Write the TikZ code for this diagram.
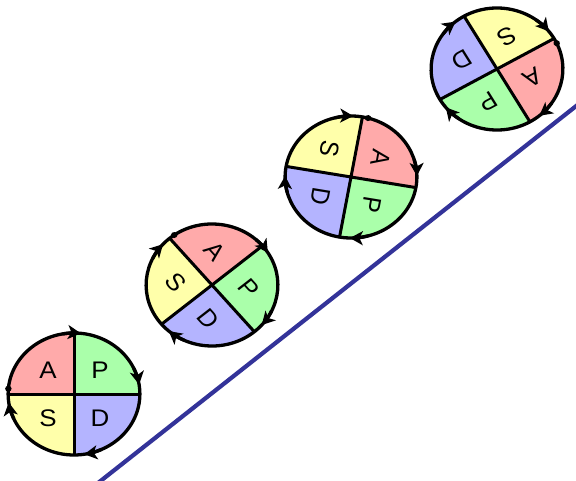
\documentclass[tikz,border=0pt]{standalone}
\usepackage{fontspec}
\setmainfont{Liberation Sans}
\usetikzlibrary{arrows.meta}
\definecolor{pdcaAct}{HTML}{FFAAAA}
\definecolor{pdcaPlan}{HTML}{AAFFAA}
\definecolor{pdcaDo}{HTML}{B4B4FF}
\definecolor{pdcaStudy}{HTML}{FFFFAA}
\definecolor{pdcaSlope}{HTML}{333399}
\tikzset{
  rim/.style={draw=black, line width=3.3pt},
  spoke/.style={draw=black, line width=3pt},
  turn/.style={draw=black, line width=3.3pt,
               -{Stealth[length=13pt, width=14pt, inset=3.5pt]}},
  letter/.style={font=\fontsize{24}{24}\selectfont, transform shape, inner sep=0pt},
  slope/.style={draw=pdcaSlope, line width=4.2pt},
}
\begin{document}
\begin{tikzpicture}[x=1pt, y=1pt]
\useasboundingbox (0,0) rectangle (576,480);

\def\R{61}

\draw[slope] (98,-3) -- (580,377);

% one wheel per step up the slope
\foreach \n/\cx/\cy/\rot/\ta in {1/74/86/0/84, 2/212/195/-50/82, 3/351/303/-100/101, 4/497/411/-150/100} {
  \begin{scope}[shift={(\cx,\cy)}, xscale=1.08, rotate=\rot]
    \fill[pdcaPlan]  (0,0) -- (0:\R)   arc[start angle=0,   end angle=90,  radius=\R] -- cycle;
    \fill[pdcaAct]   (0,0) -- (90:\R)  arc[start angle=90,  end angle=180, radius=\R] -- cycle;
    \fill[pdcaStudy] (0,0) -- (180:\R) arc[start angle=180, end angle=270, radius=\R] -- cycle;
    \fill[pdcaDo]    (0,0) -- (270:\R) arc[start angle=270, end angle=360, radius=\R] -- cycle;
    \draw[spoke] (-\R,0) -- (\R,0) (0,-\R) -- (0,\R);
    \draw[rim] (0,0) circle[radius=\R];
    \foreach \a in {\ta,9,-81,188}
      \draw[turn] (\a+16:\R) arc[start angle=\a+16, end angle=\a, radius=\R];
    \fill (175:\R) circle[radius=3];
    \node[letter] (A\n) at (-24,24)  {A};
    \node[letter] (P\n) at (24,24)   {P};
    \node[letter] (D\n) at (24,-24)  {D};
    \node[letter] (S\n) at (-24,-24) {S};
  \end{scope}
}

\end{tikzpicture}
\end{document}
